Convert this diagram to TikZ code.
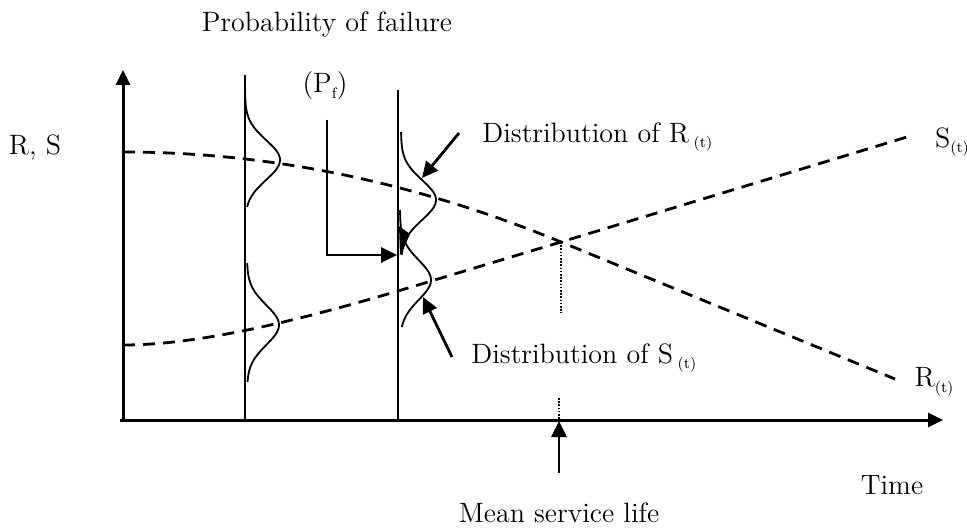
\documentclass[tikz,border=0pt]{standalone}
\usetikzlibrary{arrows.meta}
\newcommand{\lowsub}[1]{\raisebox{-0.45ex}{\fontsize{7.5}{8}\selectfont #1}}

\begin{document}
\begin{tikzpicture}[x=0.5pt,y=-0.5pt,
  axis/.style={line width=1.5pt,-{Triangle[length=7.5pt,width=7pt]}},
  pointer/.style={line width=1.4pt,-{Triangle[length=8pt,width=7.5pt]}},
  guide/.style={line width=1pt},
  trend/.style={line width=1.4pt,dash pattern=on 6pt off 4pt},
  bell/.style={line width=0.9pt},
  dotline/.style={line width=0.8pt,dash pattern=on 0.8pt off 0.8pt},
  lbl/.style={font=\fontsize{14}{16}\selectfont,inner sep=0pt}]
\useasboundingbox (0,0) rectangle (967,529);
\coordinate (O) at (123,420);
\coordinate (ytip) at (123,70);
\coordinate (xstart) at (120,420);
\coordinate (xtip) at (943,420);
\draw[axis] (O) -- (ytip);
\draw[axis] (xstart) -- (xtip);
\coordinate (t1top) at (245,75);
\coordinate (t1bot) at (245,420);
\coordinate (t2top) at (398,90);
\coordinate (t2bot) at (398,420);
\draw[guide] (t1top) -- (t1bot);
\draw[guide] (t2top) -- (t2bot);
\coordinate (cross) at (561,242);
\coordinate (R0) at (123,152);
\coordinate (R1) at (895,379);
\coordinate (S0) at (123,345);
\coordinate (S1) at (907,137);
\draw[trend] (R0) .. controls (269,152) and (415,182) .. (cross) -- (R1);
\draw[trend] (S0) .. controls (200,345) and (300,320) .. (398,291) -- (cross) -- (S1);
\draw[bell] plot[domain=93:207,samples=50] ({245+35*exp(-pow((\x-160)/28,2))},\x);
\draw[bell] plot[domain=263:382,samples=50] ({247+32*exp(-pow((\x-325)/28,2))},\x);
\draw[bell] plot[domain=132:255,samples=50] ({401+35*exp(-pow((\x-200)/28,2))},\x);
\draw[bell] plot[domain=210:327,samples=50] ({400+31*exp(-pow((\x-280)/28,2))},\x);
\fill (399,226) -- (410,234) -- (403,250) -- (400,255) -- cycle;
\draw[dotline] (cross) -- (561,313);
\coordinate (lifetip) at (559,421);
\coordinate (lifefoot) at (559,473);
\draw[dotline] (559,398) -- (lifetip);
\draw[pointer] (lifefoot) -- (lifetip);
\coordinate (pftop) at (327,120);
\coordinate (pfbend) at (327,255);
\coordinate (pftip) at (397,255);
\draw[pointer] (pftop) -- (pfbend) -- (pftip);
\coordinate (rfoot) at (459,133);
\coordinate (rtip) at (422,178);
\coordinate (sfoot) at (452,357);
\coordinate (stip) at (423,297);
\draw[pointer] (rfoot) -- (rtip);
\draw[pointer] (sfoot) -- (stip);
\node[lbl] (prob) at (327,25) {Probability of failure};
\node[lbl] (pf) at (325,86) {(P\lowsub{f})};
\node[lbl] (rs) at (35,147) {R, S};
\node[lbl,anchor=west] (distR) at (482,137) {Distribution of R\,\lowsub{(t)}};
\node[lbl,anchor=west] (distS) at (471,358) {Distribution of S\,\lowsub{(t)}};
\node[lbl] (Rt) at (934,382) {R\lowsub{(t)}};
\node[lbl] (St) at (952,142) {S\lowsub{(t)}};
\node[lbl] (time) at (892,485) {Time};
\node[lbl] (life) at (559,513) {Mean service life};
\end{tikzpicture}
\end{document}
